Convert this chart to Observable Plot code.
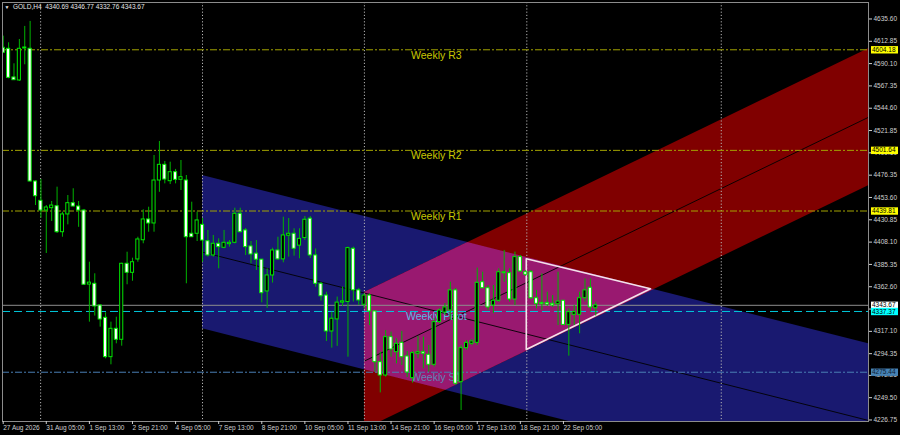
<!DOCTYPE html>
<html><head><meta charset="utf-8">
<script src="https://cdn.jsdelivr.net/npm/d3@7"></script>
<script src="https://cdn.jsdelivr.net/npm/@observablehq/plot@0.6"></script>
<style>html,body{margin:0;padding:0;background:#000;overflow:hidden}</style>
</head><body><div id="chart"></div>
<script>
// ---- candle data (GOLD, H4), bar index = position from left ----
const open = [
4606.2,4605.2,4576.0,4572.9,4605.5,4605.2,4469.9,4450.2,4440.3,4442.7,
4444.7,4418.2,4436.3,4447.8,4444.4,4440.3,4364.8,4365.6,4343.5,4330.9,
4290.8,4319.7,4308.5,4386.0,4376.8,4390.4,4410.0,4431.2,4427.1,4470.9,
4486.9,4470.2,4479.4,4471.6,4470.9,4416.6,4416.6,4425.7,4409.0,4394.5,
4406.4,4402.3,4406.0,4407.4,4437.0,4420.0,4403.7,4396.3,4390.2,4357.8,
4374.1,4399.6,4390.5,4414.6,4416.6,4404.5,4412.2,4432.0,4394.5,4365.6,
4353.6,4317.0,4329.3,4346.4,4347.0,4401.3,4358.9,4344.2,4353.6,4337.4,
4285.7,4272.1,4311.2,4295.9,4305.4,4291.5,4269.4,4294.3,4295.9,4293.2,
4283.0,4326.5,4336.3,4338.4,4358.9,4265.3,4300.0,4304.4,4305.4,4367.2,
4361.1,4343.5,4348.3,4376.4,4376.4,4349.6,4392.8,4377.4,4377.4,4350.9,
4346.1,4346.1,4345.2,4344.8,4348.3,4323.7,4334.0,4334.0,4350.9,4361.5,4340.69];
const high = [
4618.1,4611.3,4589.9,4614.7,4628.0,4633.1,4470.5,4472.0,4445.4,4449.5,
4464.1,4438.6,4455.6,4462.5,4449.5,4441.4,4387.6,4375.8,4344.2,4336.0,
4326.5,4331.5,4386.6,4397.8,4391.7,4413.1,4441.0,4443.7,4496.4,4510.7,
4490.3,4489.6,4482.2,4491.3,4476.0,4448.8,4438.6,4432.2,4420.0,4414.9,
4411.5,4420.0,4409.7,4442.7,4442.7,4422.0,4408.7,4409.7,4390.5,4380.9,
4401.9,4413.1,4433.5,4432.2,4421.7,4421.7,4434.2,4434.2,4401.1,4367.0,
4357.0,4336.7,4352.1,4362.3,4403.0,4403.0,4360.9,4355.4,4355.4,4338.4,
4295.9,4318.0,4316.3,4309.5,4317.0,4296.6,4296.6,4311.9,4311.2,4302.7,
4330.0,4340.1,4345.5,4367.2,4360.9,4302.7,4307.8,4308.8,4381.6,4377.4,
4363.9,4363.9,4380.9,4399.6,4380.9,4397.9,4394.5,4379.2,4379.2,4358.8,
4375.8,4357.0,4353.6,4377.4,4348.6,4340.1,4343.5,4357.0,4370.6,4370.6,4346.77];
const low = [
4600.4,4574.6,4572.9,4571.9,4588.9,4469.2,4445.4,4432.5,4396.5,4429.1,
4416.9,4413.1,4425.7,4443.9,4423.2,4363.9,4326.5,4332.7,4321.4,4289.1,
4283.0,4304.4,4302.0,4364.6,4368.2,4387.6,4406.4,4418.2,4418.2,4458.9,
4467.5,4466.8,4467.5,4460.7,4365.6,4412.8,4408.7,4387.6,4392.8,4392.8,
4380.9,4401.3,4403.0,4406.4,4417.6,4394.5,4386.0,4379.2,4346.2,4340.6,
4366.3,4389.5,4387.0,4392.8,4393.8,4391.1,4409.7,4391.4,4362.1,4347.9,
4306.8,4300.0,4301.8,4342.5,4290.8,4347.0,4343.5,4340.1,4323.0,4275.6,
4254.4,4270.4,4290.8,4284.0,4282.3,4270.1,4264.3,4289.1,4278.9,4275.6,
4280.6,4325.1,4333.3,4328.2,4262.0,4236.4,4297.6,4302.6,4302.6,4360.8,
4338.4,4335.0,4346.6,4367.2,4347.0,4343.5,4377.1,4373.1,4349.6,4340.1,
4338.4,4342.5,4341.5,4323.0,4323.0,4291.8,4323.0,4314.6,4347.0,4336.7,4332.76];
const close = [
4601.1,4575.6,4573.2,4605.2,4606.5,4469.9,4454.9,4440.3,4443.4,4445.4,
4418.2,4436.3,4447.8,4444.4,4440.3,4364.6,4366.8,4342.5,4329.2,4290.8,
4319.7,4308.5,4386.0,4376.8,4387.6,4410.8,4431.2,4427.1,4470.9,4486.9,
4471.9,4479.4,4471.6,4474.3,4413.1,4413.1,4430.2,4409.7,4394.5,4406.4,
4403.0,4407.4,4407.4,4437.0,4418.2,4403.0,4395.5,4390.2,4356.0,4374.1,
4399.6,4390.5,4414.9,4416.6,4401.3,4411.4,4430.9,4394.5,4365.6,4352.9,
4317.0,4330.0,4346.4,4347.7,4402.0,4358.9,4348.6,4353.6,4337.4,4285.7,
4272.1,4311.2,4298.6,4304.4,4290.8,4275.2,4294.9,4295.9,4294.3,4283.0,
4326.5,4338.4,4341.5,4358.9,4263.7,4300.0,4305.4,4306.8,4366.6,4361.1,
4341.5,4348.3,4377.4,4377.4,4349.6,4392.8,4378.2,4374.8,4350.9,4345.2,
4344.8,4344.4,4343.5,4347.5,4323.7,4336.7,4336.7,4350.9,4358.9,4341.5,4343.67];

// ---- time axis ----
const tickBars = [0, 8, 16, 24, 32, 40, 48, 56, 64, 72, 80, 88, 96, 104];
const tickLabels = ["27 Aug 2026","31 Aug 05:00","1 Sep 13:00","2 Sep 21:00","4 Sep 05:00","7 Sep 13:00",
  "8 Sep 21:00","10 Sep 05:00","11 Sep 13:00","14 Sep 21:00","16 Sep 05:00","17 Sep 13:00","18 Sep 21:00","22 Sep 05:00"];
const gridBars = [6.95, 37.0, 67.05, 97.2, 133.3];

// ---- price axis (4339.85 is hidden behind the price boxes in the reference) ----
const yTickValues = [4226.75,4249.50,4272.25,4294.35,4317.10,4339.85,4362.60,4385.35,4408.10,4430.85,
  4453.60,4476.35,4499.10,4521.85,4544.60,4567.35,4590.10,4612.85,4635.60];
const yTickHidden = [4339.85];

// ---- weekly pivot levels ----
const levelNames = ["Weekly R3","Weekly R2","Weekly R1","Weekly Pivot","Weekly S1"];
const levelValues = [4604.18, 4501.64, 4439.81, 4337.37, 4275.44];
const levelLabelBar = 80.4;

// ---- regression channels (0: blue falling, 1: red rising) ----
const channelStartBar = [37.0, 67.07];
const channelTopPrice = [4476.0, 4356.7];
const channelSlope = [-1.388, 2.656];
const channelWidth = [156.3, 139.7];

// ---- triangle ----
const triangleBars = [97.1, 97.1, 120.16, 97.1];
const trianglePrices = [4391.1, 4298.6, 4360.5, 4391.1];

// ---- header ----
const symbolName = "GOLD,H4";
const ohlcNow = [4340.69, 4346.77, 4332.76, 4343.67];

// ================= build =================
const xDomain = [-0.13, 160.63];
const yDomain = [4225.2, 4652.4];

const candles = open.map((o, i) => ({i, o, h: high[i], l: low[i], c: close[i]}));

const chTop = (k, b) => channelTopPrice[k] + channelSlope[k] * (b - channelStartBar[k]);
const chBot = (k, b) => chTop(k, b) - channelWidth[k];
function channel(k) {
  return [channelStartBar[k], xDomain[1]].map(b => ({b, top: chTop(k, b), mid: chTop(k, b) - channelWidth[k] / 2, bot: chBot(k, b)}));
}
const blue = channel(0), red = channel(1);
// overlap of the two channels (drawn in the XOR colour, as the terminal does)
const ovBars = d3.range(Math.max(channelStartBar[0], channelStartBar[1]), xDomain[1], 0.05).concat([xDomain[1]]);
const overlap = ovBars.map(b => {
  const t = Math.min(chTop(0, b), chTop(1, b));
  const lo = Math.max(chBot(0, b), chBot(1, b));
  return {b, t, lo: lo < t ? lo : t};
});

const triangle = triangleBars.map((b, k) => ({b, p: trianglePrices[k]}));
const levels = levelNames.map((name, k) => ({name, v: levelValues[k], k}));

const levelLine = ["#a3a300", "#a3a300", "#a3a300", "#00c8dc", "#4a7fb4"];
const levelText = ["#c8c800", "#c8c800", "#c8c800", "#5ab8e6", "#5f86b8"];
const levelDash = ["7,2,2,2", "7,2,2,2", "7,2,2,2", "8,4", "7,2,2,2"];

const lastPrice = close[close.length - 1];
const priceBoxes = [
  {v: levelValues[0], fill: "#ffff00", ink: "#000"},
  {v: levelValues[1], fill: "#ffff00", ink: "#000"},
  {v: levelValues[2], fill: "#ffff00", ink: "#000"},
  {v: lastPrice, fill: "#ffffff", ink: "#000"},
  {v: levelValues[3], fill: "#00ffff", ink: "#000"},
  {v: levelValues[4], fill: "#4682b4", ink: "#0d1c33"}
];
const boxSymbol = {draw(ctx) {
  ctx.moveTo(-13.5, -3.7); ctx.lineTo(13.5, -3.7); ctx.lineTo(13.5, 3.7); ctx.lineTo(-13.5, 3.7); ctx.closePath();
}};

const font = "'Liberation Sans', Arial, sans-serif";

const chart = Plot.plot({
  width: 900, height: 435,
  marginLeft: 2, marginRight: 32, marginTop: 2, marginBottom: 14,
  x: {domain: xDomain},
  y: {domain: yDomain},
  style: {background: "#000", color: "#d0d0d0", fontFamily: font, fontSize: "6.5px"},
  marks: [
    // channels
    Plot.areaY(blue, {x: "b", y1: "top", y2: "bot", fill: "#191970", clip: true}),
    Plot.areaY(red, {x: "b", y1: "top", y2: "bot", fill: "#800000", clip: true}),
    Plot.areaY(overlap, {x: "b", y1: "t", y2: "lo", fill: "#991970", clip: true}),
    Plot.line(blue, {x: "b", y: "mid", stroke: "#000", strokeWidth: 0.9, clip: true}),
    Plot.line(red, {x: "b", y: "mid", stroke: "#000", strokeWidth: 0.9, clip: true}),
    // grid
    Plot.ruleX(gridBars, {stroke: "#b4b4b4", strokeDasharray: "1.2,2", strokeWidth: 1}),
    // levels
    ...levels.map(d => Plot.ruleY([d.v], {stroke: levelLine[d.k], strokeDasharray: levelDash[d.k], strokeWidth: 1})),
    Plot.ruleY([lastPrice], {stroke: "#8e8e8e", strokeWidth: 1}),
    Plot.text(levels, {x: () => levelLabelBar, y: "v", text: "name", dy: 5.5, fill: d => levelText[d.k],
      fontSize: 10.5, fontFamily: font}),
    // triangle
    Plot.line(triangle, {x: "b", y: "p", stroke: "#f3e2ea", strokeWidth: 1.6}),
    // candles
    Plot.ruleX(candles, {x: "i", y1: "l", y2: "h", stroke: "#00b400", strokeWidth: 1, clip: true}),
    Plot.rect(candles, {x1: d => d.i - 0.29, x2: d => d.i + 0.29, y1: "o", y2: "c",
      fill: d => d.c >= d.o ? "#000" : "#fff", stroke: "#00e600", strokeWidth: 1, clip: true}),
    // frame & axes
    Plot.frame({stroke: "#8c8c8c"}),
    Plot.axisY({anchor: "right", ticks: yTickValues, tickFormat: d => yTickHidden.includes(d) ? "" : d.toFixed(2),
      tickSize: 3, tickPadding: 2, fontSize: 6.5, color: "#d0d0d0", label: null}),
    Plot.axisX({anchor: "bottom", ticks: tickBars, tickFormat: d => tickLabels[tickBars.indexOf(d)],
      textAnchor: "start", tickSize: 3, tickPadding: 1, fontSize: 6.5, color: "#d0d0d0", label: null}),
    // price boxes on the right
    Plot.dot(priceBoxes, {y: "v", frameAnchor: "right", dx: 16, symbol: boxSymbol, fill: "fill", stroke: null}),
    Plot.text(priceBoxes, {y: "v", frameAnchor: "right", dx: 3.5, textAnchor: "start", text: d => d.v.toFixed(2),
      fill: "ink", fontSize: 6.5, fontFamily: font}),
    // header
    Plot.text(["▼"], {frameAnchor: "top-left", dx: 2, dy: 2.5, textAnchor: "start", lineAnchor: "top", fill: "#e6e6e6", fontSize: 5}),
    Plot.text([symbolName + "  " + ohlcNow.map(v => v.toFixed(2)).join(" ")], {frameAnchor: "top-left", dx: 10.5, dy: 2,
      textAnchor: "start", lineAnchor: "top", fill: "#e6e6e6", fontSize: 6.5, fontFamily: font})
  ]
});
document.getElementById("chart").appendChild(chart);
</script>
</body></html>
